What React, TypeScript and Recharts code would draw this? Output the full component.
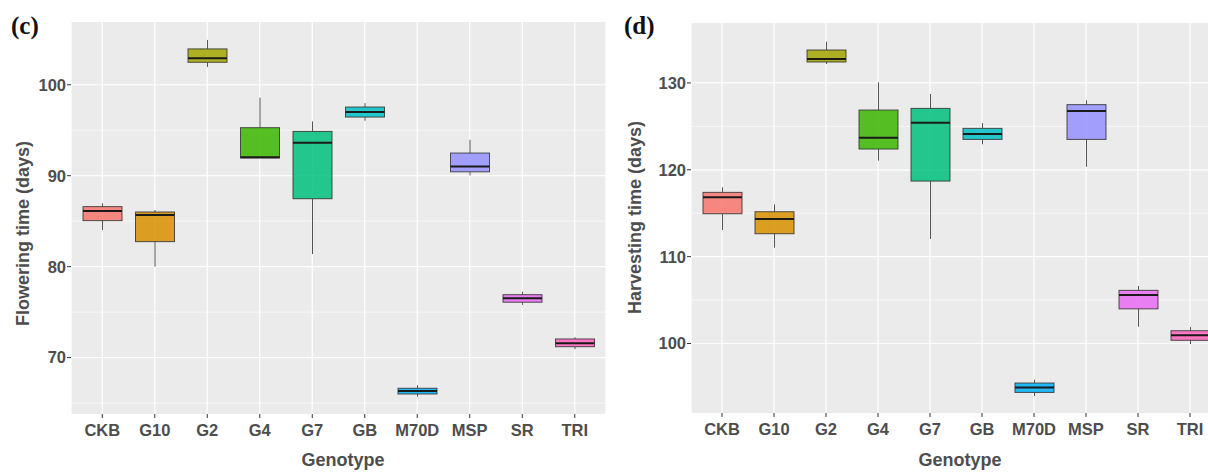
import React from 'react'
import { ComposedChart, Bar, XAxis, YAxis, CartesianGrid, ReferenceLine } from 'recharts'

// Genotypes on the x axis, in plot order
const genotypes = ['CKB', 'G10', 'G2', 'G4', 'G7', 'GB', 'M70D', 'MSP', 'SR', 'TRI']
const hueColors = ['#F8766D', '#D89000', '#A3A500', '#39B600', '#00BF7D', '#00BFC4', '#00B0F6', '#9590FF', '#E76BF3', '#FF62BC']

// (c) Flowering time (days)
const floweringMin = [84.03, 80.0, 101.96, 91.95, 81.38, 96.04, 65.71, 90.03, 75.79, 70.92]
const floweringQ1 = [85.06, 82.75, 102.47, 91.95, 87.47, 96.45, 66.0, 90.43, 76.09, 71.2]
const floweringMedian = [86.12, 85.68, 102.91, 92.03, 93.62, 97.0, 66.33, 91.02, 76.53, 71.58]
const floweringQ3 = [86.6, 86.01, 103.94, 95.28, 94.87, 97.55, 66.63, 92.49, 76.92, 72.05]
const floweringMax = [86.97, 86.23, 104.93, 98.58, 95.97, 97.98, 66.96, 93.95, 77.25, 72.24]
const floweringMajor = [70, 80, 90, 100]
const floweringMinor = [65, 75, 85, 95]

// (d) Harvesting time (days)
const harvestMin = [113.07, 111.03, 132.18, 121.05, 112.03, 122.93, 93.95, 120.35, 101.93, 99.94]
const harvestQ1 = [114.94, 112.64, 132.41, 122.39, 118.7, 123.5, 94.37, 123.5, 103.99, 100.37]
const harvestMedian = [116.83, 114.33, 132.75, 123.7, 125.42, 124.12, 94.95, 126.76, 105.58, 100.94]
const harvestQ3 = [117.4, 115.17, 133.79, 126.88, 127.07, 124.77, 95.45, 127.5, 106.12, 101.47]
const harvestMax = [117.98, 116.02, 134.74, 130.07, 128.72, 125.38, 95.83, 128.0, 106.62, 101.9]
const harvestMajor = [100, 110, 120, 130]
const harvestMinor = [105, 115, 125]

const FONT = '"Liberation Sans", Arial, sans-serif'
const SERIF = '"Liberation Serif", "Times New Roman", serif'
const TEXT = '#4D4D4D'

function buildRows(min: number[], q1: number[], med: number[], q3: number[], max: number[]) {
    return genotypes.map((name, i) => ({
        name,
        range: [min[i], max[i]],
        min: min[i],
        q1: q1[i],
        median: med[i],
        q3: q3[i],
        max: max[i],
        color: hueColors[i],
    }))
}

// Box + whiskers drawn inside the [min, max] range bar
const BoxShape = (props: any) => {
    const { x, y, width, height } = props
    const d = props.payload ?? props
    const top = Math.min(y, y + height)
    const h = Math.abs(height)
    const span = d.max - d.min || 1
    const toY = (v: number) => top + ((d.max - v) / span) * h
    const cx = x + width / 2
    return (
        <g>
            <line x1={cx} x2={cx} y1={toY(d.max)} y2={toY(d.q3)} stroke="#555" strokeWidth={1} />
            <line x1={cx} x2={cx} y1={toY(d.q1)} y2={toY(d.min)} stroke="#555" strokeWidth={1} />
            <rect
                x={x}
                y={toY(d.q3)}
                width={width}
                height={Math.max(toY(d.q1) - toY(d.q3), 0.5)}
                fill={d.color}
                fillOpacity={0.85}
                stroke="#333"
                strokeOpacity={0.85}
                strokeWidth={1}
            />
            <line x1={x} x2={x + width} y1={toY(d.median)} y2={toY(d.median)} stroke="#1a1a1a" strokeWidth={2} />
        </g>
    )
}

interface PanelProps {
    rows: any[]
    domain: [number, number]
    major: number[]
    minor: number[]
    left: number
    top: number
    bottom: number
    right: number
}

function Panel({ rows, domain, major, minor, left, top, bottom, right }: PanelProps) {
    return (
        <div style={{ position: 'absolute', left, top: 0 }}>
            <ComposedChart width={620} height={472} data={rows} margin={{ top, right, bottom: 0, left: 0 }}>
                <CartesianGrid fill="#EBEBEB" stroke="#FFFFFF" strokeWidth={1.2} horizontal={false} vertical />
                {minor.map(v => (
                    <ReferenceLine key={`mn-${v}`} y={v} stroke="#FFFFFF" strokeWidth={0.6} zIndex={-60} />
                ))}
                {major.map(v => (
                    <ReferenceLine key={`mj-${v}`} y={v} stroke="#FFFFFF" strokeWidth={1.2} zIndex={-60} />
                ))}
                <XAxis
                    dataKey="name"
                    height={bottom}
                    padding={{ left: 5, right: 5 }}
                    axisLine={false}
                    tickLine={{ stroke: '#333' }}
                    tickSize={4}
                    tickMargin={6}
                    interval={0}
                    tick={{ fontSize: 16.5, fontWeight: 700, fill: TEXT, fontFamily: FONT }}
                />
                <YAxis
                    type="number"
                    width={71}
                    domain={domain}
                    allowDataOverflow
                    ticks={major}
                    axisLine={false}
                    tickLine={{ stroke: '#333' }}
                    tickSize={4}
                    tickMargin={1}
                    tick={{ fontSize: 16.5, fontWeight: 700, fill: TEXT, fontFamily: FONT }}
                />
                <Bar dataKey="range" barSize={39} shape={BoxShape} isAnimationActive={false} />
            </ComposedChart>
        </div>
    )
}

export default function App() {
    const flowering = buildRows(floweringMin, floweringQ1, floweringMedian, floweringQ3, floweringMax)
    const harvest = buildRows(harvestMin, harvestQ1, harvestMedian, harvestQ3, harvestMax)

    return (
        <div style={{ position: 'fixed', left: 0, top: 0, width: 1208, height: 472, overflow: 'hidden', background: '#fff' }}>
            <Panel rows={flowering} domain={[63.8, 106.9]} major={floweringMajor} minor={floweringMinor} left={0} top={22} bottom={58} right={14} />
            <Panel rows={harvest} domain={[92.0, 136.9]} major={harvestMajor} minor={harvestMinor} left={620} top={23} bottom={59} right={19} />
            <svg width={1208} height={472} style={{ position: 'absolute', left: 0, top: 0, pointerEvents: 'none' }}>
                <text x={11} y={34} fontFamily={SERIF} fontWeight={700} fontSize={25} fill="#111">(c)</text>
                <text x={624} y={34} fontFamily={SERIF} fontWeight={700} fontSize={25} fill="#111">(d)</text>
                <text x={0} y={0} transform="translate(29,233.5) rotate(-90)" textAnchor="middle" fontFamily={FONT} fontWeight={700} fontSize={18} fill={TEXT}>Flowering time (days)</text>
                <text x={0} y={0} transform="translate(641,217.5) rotate(-90)" textAnchor="middle" fontFamily={FONT} fontWeight={700} fontSize={18} fill={TEXT}>Harvesting time (days)</text>
                <text x={343} y={466} textAnchor="middle" fontFamily={FONT} fontWeight={700} fontSize={18} fill={TEXT}>Genotype</text>
                <text x={960} y={466} textAnchor="middle" fontFamily={FONT} fontWeight={700} fontSize={18} fill={TEXT}>Genotype</text>
            </svg>
        </div>
    )
}
